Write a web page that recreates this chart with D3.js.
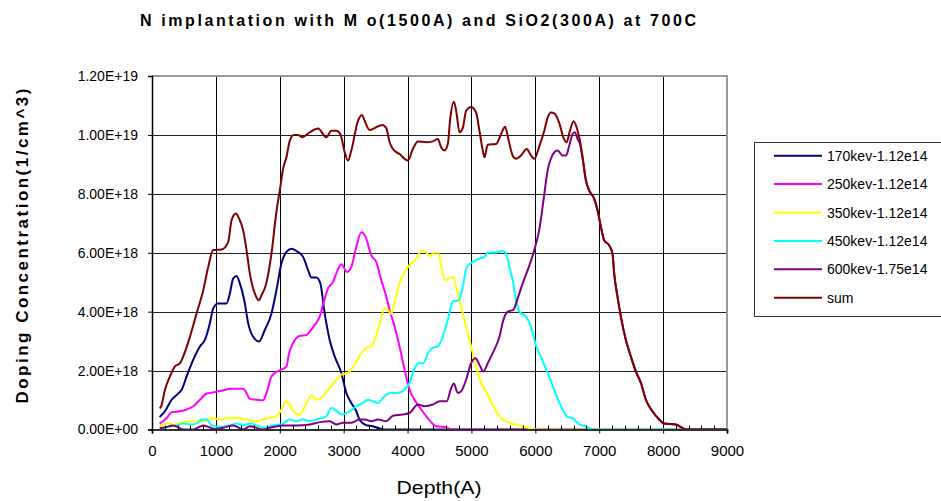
<!DOCTYPE html>
<html><head><meta charset="utf-8">
<script src="https://cdn.jsdelivr.net/npm/d3@7"></script>
<style>
body{margin:0;background:#fff;}
svg{display:block;font-family:"Liberation Sans",Arial,Helvetica,sans-serif;}
</style>
</head><body>
<svg id="chart" width="941" height="501"></svg>
<script>
// ---------- data (depth in Angstrom, concentration in units of 1e18 /cm^3) ----------
const titleText = "N implantation with M o(1500A) and SiO2(300A) at 700C";
const xTitle = "Depth(A)";
const yTitle = "Doping Concentration(1/cm^3)";
const xTicks = [0,1000,2000,3000,4000,5000,6000,7000,8000,9000];
const yTicks = [0,2e18,4e18,6e18,8e18,1e19,1.2e19];
const UNIT = 1e18;

const seriesNames  = ["170kev-1.12e14","250kev-1.12e14","350kev-1.12e14","450kev-1.12e14","600kev-1.75e14","sum"];
const seriesColors = ["#000080","#FF00FF","#FFFF00","#00FFFF","#800080","#800000"];

const s170 = [[120,0.42],[141,0.47],[203,0.62],[307,1.01],[400,1.2],[464,1.35],[542,1.80],[646,2.37],[750,2.82],[828,3.04],[906,3.61],[958,4.11],[1036,4.28],[1167,4.28],[1219,4.62],[1271,5.13],[1323,5.21],[1375,4.96],[1453,4.28],[1505,3.61],[1583,3.15],[1677,2.99],[1766,3.38],[1870,3.94],[1948,4.73],[2026,5.64],[2104,6.03],[2182,6.14],[2260,6.06],[2365,5.86],[2443,5.41],[2495,5.16],[2573,5.16],[2635,4.96],[2703,3.94],[2781,3.04],[2859,2.48],[2964,1.92],[3042,1.24],[3120,0.90],[3198,0.62],[3250,0.32],[3350,0.15],[3458,0.11],[3550,0.04],[3640,0],[9000,0]];

const s250 = [[120,0.2],[141,0.23],[230,0.39],[307,0.59],[437,0.62],[542,0.68],[646,0.79],[750,1.01],[854,1.22],[958,1.26],[1115,1.33],[1219,1.38],[1427,1.38],[1480,1.24],[1531,1.04],[1636,1.01],[1740,0.99],[1792,1.24],[1870,1.80],[1922,1.92],[2026,2.03],[2104,2.14],[2146,2.59],[2208,2.93],[2313,3.18],[2417,3.21],[2469,3.32],[2547,3.55],[2625,3.83],[2677,4.23],[2755,4.79],[2833,5.01],[2885,5.30],[2964,5.61],[3052,5.35],[3120,5.52],[3198,6.20],[3276,6.70],[3344,6.54],[3406,6.09],[3432,5.92],[3510,5.69],[3588,5.07],[3667,4.51],[3719,4.06],[3797,3.49],[3875,2.82],[3953,2.03],[4031,1.35],[4109,1.01],[4214,0.68],[4344,0.31],[4448,0.11],[4605,0.08],[4683,0],[9000,0]];

const s350 = [[120,0.08],[230,0.20],[333,0.17],[489,0.25],[646,0.28],[802,0.28],[932,0.39],[1063,0.34],[1193,0.39],[1323,0.39],[1480,0.34],[1636,0.28],[1740,0.34],[1818,0.39],[1948,0.45],[2026,0.68],[2104,0.96],[2156,0.85],[2208,0.62],[2313,0.51],[2417,0.90],[2495,1.15],[2573,1.01],[2677,1.13],[2781,1.41],[2885,1.69],[2964,1.86],[3067,1.92],[3172,2.20],[3276,2.59],[3354,2.76],[3432,2.82],[3536,3.38],[3640,4.11],[3692,4.06],[3745,3.92],[3797,4.34],[3875,4.96],[3953,5.35],[4031,5.58],[4136,5.80],[4214,6.06],[4281,6.03],[4355,5.88],[4406,6.00],[4474,6.01],[4542,5.41],[4594,5.07],[4656,5.13],[4719,5.18],[4771,4.73],[4839,4.17],[4917,3.49],[4995,2.82],[5073,2.14],[5151,1.58],[5255,1.18],[5359,0.73],[5464,0.39],[5594,0.23],[5802,0.11],[5958,0.02],[6000,0],[9000,0]];

const s450 = [[151,0],[255,0.09],[385,0.14],[489,0.20],[594,0.17],[698,0.20],[776,0.34],[854,0.34],[932,0.14],[1063,0.09],[1219,0.14],[1323,0.20],[1427,0.14],[1531,0.20],[1636,0.14],[1740,0.06],[1896,0.14],[2052,0.20],[2156,0.34],[2260,0.28],[2365,0.34],[2469,0.28],[2573,0.34],[2729,0.45],[2807,0.73],[2859,0.68],[2964,0.51],[3094,0.62],[3198,0.79],[3302,0.90],[3380,1.01],[3458,0.96],[3536,0.90],[3614,1.07],[3719,1.24],[3849,1.24],[3953,1.35],[4031,1.58],[4109,2.08],[4177,2.25],[4250,2.25],[4318,2.59],[4386,2.76],[4474,2.82],[4552,3.15],[4630,3.72],[4708,4.34],[4802,4.39],[4864,4.84],[4927,5.52],[5021,5.69],[5125,5.80],[5203,5.86],[5255,6.00],[5386,6.01],[5489,6.06],[5542,5.97],[5594,5.52],[5645,5.07],[5698,4.39],[5750,4.00],[5855,3.83],[5933,3.49],[6010,2.85],[6089,2.45],[6167,2.05],[6245,1.63],[6323,1.18],[6427,0.68],[6505,0.43],[6583,0.39],[6688,0.17],[6792,0.11],[6922,0],[9000,0]];

const s600 = [[120,0.05],[177,0.06],[333,0.14],[489,0],[646,0],[802,0.14],[984,0.02],[1115,0.06],[1271,0.14],[1427,0],[1531,0.11],[1740,0],[1844,0.06],[2052,0.14],[2260,0.14],[2469,0.17],[2625,0.25],[2781,0.28],[2885,0.17],[2990,0.23],[3120,0.23],[3250,0.34],[3328,0.34],[3432,0.28],[3536,0.34],[3667,0.28],[3771,0.47],[3927,0.51],[4031,0.56],[4161,0.85],[4266,0.79],[4396,0.85],[4500,0.96],[4614,0.96],[4683,1.41],[4724,1.56],[4786,1.24],[4839,1.30],[4917,1.69],[4995,2.25],[5063,2.42],[5125,2.20],[5188,1.97],[5255,2.25],[5333,2.59],[5438,3.15],[5500,3.72],[5567,4.00],[5656,4.06],[5723,4.45],[5802,4.96],[5880,5.41],[5984,6.09],[6063,6.80],[6141,8.0],[6193,8.8],[6245,9.2],[6297,9.41],[6349,9.47],[6427,9.30],[6480,9.30],[6531,9.64],[6583,10.03],[6620,10.09],[6661,9.86],[6698,9.7],[6739,9.24],[6792,8.45],[6844,8.11],[6922,7.83],[6974,7.44],[7027,6.87],[7078,6.42],[7156,6.25],[7208,5.97],[7234,5.30],[7286,4.51],[7339,3.83],[7417,3.04],[7495,2.48],[7573,1.97],[7652,1.58],[7730,1.01],[7833,0.62],[7938,0.34],[8016,0.20],[8198,0.17],[8276,0.09],[8354,0],[9000,0]];

const sSum = [[120,0.72],[141,0.77],[203,1.35],[281,1.80],[359,2.14],[437,2.25],[489,2.48],[594,3.15],[698,3.94],[802,4.73],[880,5.52],[958,6.09],[1089,6.11],[1193,6.37],[1245,7.10],[1313,7.33],[1364,7.16],[1427,6.76],[1480,6.09],[1531,5.30],[1609,4.62],[1677,4.39],[1714,4.56],[1781,4.90],[1870,5.97],[1948,7.4],[2000,8.11],[2052,8.85],[2104,9.24],[2156,9.80],[2219,10.0],[2286,10.0],[2349,9.92],[2469,10.09],[2599,10.22],[2729,9.92],[2807,10.14],[2885,10.14],[2953,10.0],[3016,9.41],[3067,9.13],[3120,9.47],[3224,10.48],[3286,10.68],[3328,10.48],[3406,10.17],[3484,10.23],[3604,10.34],[3667,10.23],[3719,9.75],[3771,9.52],[3875,9.35],[4005,9.13],[4083,9.52],[4161,9.78],[4292,9.75],[4396,9.78],[4474,9.86],[4526,9.58],[4578,9.47],[4630,9.69],[4667,10.54],[4724,11.13],[4761,10.82],[4813,10.09],[4864,10.23],[4917,10.82],[4995,10.95],[5073,10.76],[5125,10.14],[5177,9.47],[5203,9.24],[5255,9.67],[5386,9.69],[5464,10.03],[5527,10.28],[5583,9.80],[5645,9.30],[5698,9.19],[5777,9.30],[5864,9.52],[5933,9.30],[5984,9.19],[6063,9.62],[6141,10.15],[6193,10.59],[6245,10.76],[6297,10.73],[6375,10.40],[6438,9.92],[6489,9.75],[6542,10.14],[6599,10.46],[6646,10.26],[6698,9.80],[6739,9.24],[6792,8.45],[6844,8.11],[6922,7.83],[6974,7.44],[7027,6.87],[7078,6.42],[7156,6.25],[7208,5.97],[7234,5.30],[7286,4.51],[7339,3.83],[7417,3.04],[7495,2.48],[7573,1.97],[7652,1.58],[7730,1.01],[7833,0.62],[7938,0.34],[8016,0.20],[8198,0.17],[8276,0.09],[8354,0],[9000,0]];

const seriesData = [s170, s250, s350, s450, s600, sSum];

// ---------- drawing ----------
const svg = d3.select("#chart");
const x = d3.scaleLinear().domain([0, 9000]).range([152, 727]);
const y = d3.scaleLinear().domain([0, 1.2e19]).range([429.5, 76]);

function sciFmt(v){
  if (v === 0) return "0.00E+00";
  const s = v.toExponential(2).toUpperCase();
  const [m, e] = s.split("E");
  return m + "E" + e[0] + e.slice(1).padStart(2, "0");
}

// title
svg.append("text")
  .attr("x", 418).attr("y", 26)
  .attr("text-anchor", "middle")
  .attr("font-size", 16).attr("font-weight", "bold")
  .attr("textLength", 556).attr("lengthAdjust", "spacing")
  .text(titleText);

// gridlines
const grid = svg.append("g");
grid.selectAll("line.v").data(xTicks.filter(t => t > 0 && t < 9000)).join("line")
  .attr("x1", d => Math.round(x(d)) + 0.5).attr("x2", d => Math.round(x(d)) + 0.5)
  .attr("y1", y(1.2e19)).attr("y2", y(0))
  .attr("stroke", "#000").attr("stroke-width", 1);
grid.selectAll("line.h").data(yTicks.filter(t => t > 0 && t < 1.2e19)).join("line")
  .attr("x1", x(0)).attr("x2", x(9000))
  .attr("y1", d => Math.round(y(d)) + 0.5).attr("y2", d => Math.round(y(d)) + 0.5)
  .attr("stroke", "#222").attr("stroke-width", 1);

// plot area border (top and right, grey)
svg.append("path")
  .attr("d", `M${x(0)},${y(1.2e19)}H${x(9000)}V${y(0)}`)
  .attr("fill", "none").attr("stroke", "#9a9a9a").attr("stroke-width", 2);

// series lines
const line = d3.line()
  .x(d => x(d[0]))
  .y(d => y(d[1] * UNIT))
  .curve(d3.curveMonotoneX);

svg.append("g").selectAll("path").data(seriesData).join("path")
  .attr("d", d => line(d))
  .attr("fill", "none")
  .attr("stroke", (d, i) => seriesColors[i])
  .attr("stroke-width", 2)
  .attr("stroke-linejoin", "round");

// x axis
const xAxis = d3.axisBottom(x).tickValues(xTicks).tickFormat(d3.format("d"))
  .tickSize(4).tickPadding(12);
const gx = svg.append("g").attr("transform", `translate(0,${y(0)})`).call(xAxis);
gx.select(".domain").attr("stroke", "#333").attr("stroke-width", 2);
gx.selectAll(".tick line").attr("stroke", "#000");
gx.selectAll(".tick text").attr("font-size", 15).attr("fill", "#000")
  .attr("font-family", '"Liberation Sans",Arial,sans-serif');

// minor ticks on x axis (inside, every 200)
const minorTicks = d3.range(200, 9000, 200).filter(v => v % 1000 !== 0);
svg.append("g").selectAll("line").data(minorTicks).join("line")
  .attr("x1", d => Math.round(x(d)) + 0.5).attr("x2", d => Math.round(x(d)) + 0.5)
  .attr("y1", y(0)).attr("y2", y(0) - 4)
  .attr("stroke", "#000");

// y axis
const yAxis = d3.axisLeft(y).tickValues(yTicks).tickFormat(sciFmt)
  .tickSize(4).tickPadding(10);
const gy = svg.append("g").attr("transform", `translate(${x(0)},0)`).call(yAxis);
gy.select(".domain").attr("stroke", "#000").attr("stroke-width", 1.5);
gy.selectAll(".tick line").attr("stroke", "#000");
gy.selectAll(".tick text").attr("font-size", 14).attr("fill", "#000")
  .attr("font-family", '"Liberation Sans",Arial,sans-serif');

// axis titles
svg.append("text")
  .attr("x", 439).attr("y", 494)
  .attr("text-anchor", "middle").attr("font-size", 19)
  .attr("textLength", 85).attr("lengthAdjust", "spacingAndGlyphs")
  .text(xTitle);

svg.append("text")
  .attr("transform", "translate(28,246) rotate(-90)")
  .attr("text-anchor", "middle").attr("font-size", 17).attr("font-weight", "bold")
  .attr("textLength", 315).attr("lengthAdjust", "spacing")
  .text(yTitle);

// legend
const lg = svg.append("g");
lg.append("rect")
  .attr("x", 754.5).attr("y", 142.5).attr("width", 200).attr("height", 174)
  .attr("fill", "#fff").attr("stroke", "#333").attr("stroke-width", 1);
const rowY = i => 155.7 + i * 28.4;
lg.selectAll("line").data(seriesNames).join("line")
  .attr("x1", 774).attr("x2", 822)
  .attr("y1", (d, i) => rowY(i)).attr("y2", (d, i) => rowY(i))
  .attr("stroke", (d, i) => seriesColors[i]).attr("stroke-width", 2);
lg.selectAll("text").data(seriesNames).join("text")
  .attr("x", 827).attr("y", (d, i) => rowY(i) + 5)
  .attr("font-size", 14)
  .text(d => d);
</script>
</body></html>
